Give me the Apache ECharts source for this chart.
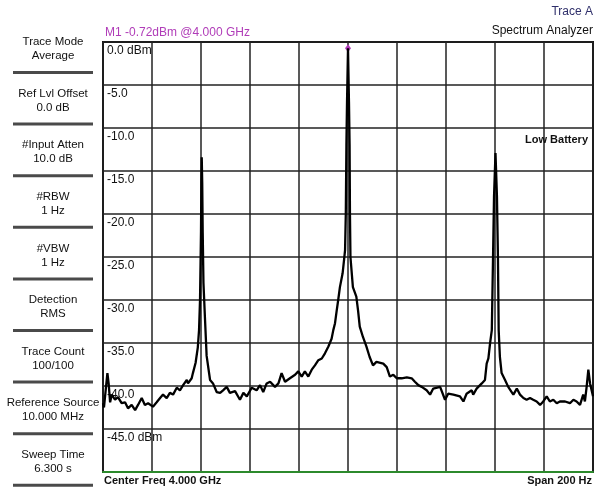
<!DOCTYPE html>
<html><head><meta charset="utf-8">
<script src="https://cdn.jsdelivr.net/npm/echarts@6/dist/echarts.min.js"></script>
<style>html,body{margin:0;padding:0;background:#fff}#c{width:595px;height:489px}</style>
</head><body><div id="c"></div>
<script>
// Frequency offset from centre (Hz) and level (dBm)
var freqHz = [-100,-99.6,-98.8,-98.2,-97.7,-97.1,-96.4,-95.1,-93.9,-92.4,-91.0,-89.8,-88.3,-86.9,-85.7,-84.2,-82.9,-81.6,-79.6,-78.1,-76.7,-75.5,-74.0,-72.7,-71.4,-69.9,-68.6,-67.3,-65.8,-65.3,-63.8,-63.3,-62.2,-61.3,-60.8,-60.4,-60.0,-59.85,-59.7,-59.5,-59.3,-59.0,-58.4,-57.7,-56.3,-55.1,-53.6,-52.2,-51.0,-49.5,-48.2,-46.1,-44.1,-42.7,-41.3,-39.3,-37.3,-35.9,-34.6,-33.2,-31.8,-29.8,-28.4,-27.1,-25.7,-23.7,-21.6,-20.3,-18.9,-17.6,-16.2,-14.8,-13.5,-12.1,-10.7,-9.4,-8.0,-6.7,-6.0,-5.3,-4.6,-4.0,-3.3,-2.2,-1.6,-1.2,-0.9,-0.65,-0.4,0,0.4,0.65,0.8,1.0,2.0,3.4,4.1,4.8,6.1,7.5,8.8,10.2,11.6,14.4,15.8,17.1,18.5,19.9,21.9,24.0,26.0,27.3,28.7,30.1,32.1,33.5,34.8,37.6,39.6,40.9,43.0,45.7,47.1,48.4,50.5,51.1,52.5,54.6,55.9,56.6,57.3,58.0,58.7,59.2,59.6,60.2,60.8,61.2,61.5,62.0,62.7,64.1,65.4,66.8,67.5,68.9,70.2,71.6,72.9,74.3,75.6,77.0,78.4,79.7,81.1,82.4,83.8,85.2,86.5,88.6,90.6,92.0,93.3,94.7,96.0,96.7,97.4,98.1,98.8,99.5,100];
var levelDbm = [-42.0,-42.5,-40.2,-38.5,-39.7,-41.9,-41.0,-41.6,-41.3,-42.0,-41.9,-42.6,-42.2,-42.8,-42.2,-41.4,-42.2,-42.0,-42.4,-41.9,-41.4,-41.0,-41.4,-40.8,-41.0,-40.2,-40.5,-39.9,-39.3,-39.7,-39.1,-38.5,-37.3,-35.5,-33.5,-30.0,-22.0,-16.4,-13.4,-16.4,-22.2,-28.0,-32.0,-36.5,-39.3,-39.7,-40.7,-40.8,-40.5,-40.1,-40.8,-40.6,-41.6,-40.8,-41.2,-40.2,-40.5,-39.9,-40.7,-39.7,-39.5,-40.1,-39.7,-38.5,-39.5,-39.1,-38.7,-38.3,-38.9,-38.3,-38.9,-38.1,-37.6,-37.0,-36.8,-36.2,-35.4,-34.5,-33.5,-32.7,-31.2,-30.0,-28.5,-26.9,-25.3,-24.2,-20.0,-12.0,-7.0,-0.72,-7.0,-12.0,-20.0,-25.0,-28.5,-29.6,-31.2,-33.1,-34.3,-35.4,-36.6,-37.6,-37.2,-37.4,-37.8,-38.9,-38.7,-39.1,-39.1,-39.0,-39.1,-39.5,-39.9,-40.1,-40.5,-41.0,-40.3,-40.1,-41.6,-40.9,-41.0,-41.2,-41.8,-40.9,-40.5,-41.0,-40.3,-39.7,-39.3,-37.4,-36.8,-35.0,-33.5,-25.0,-18.0,-12.9,-18.0,-25.0,-33.5,-36.6,-38.5,-39.3,-40.1,-40.7,-41.0,-40.3,-41.0,-41.4,-41.6,-41.4,-41.6,-41.8,-42.2,-41.8,-41.2,-41.8,-41.6,-42.0,-41.8,-41.8,-42.0,-41.6,-41.8,-42.2,-41.0,-41.8,-40.1,-38.1,-39.7,-39.5,-41.2];
var yTicks = [0,-5,-10,-15,-20,-25,-30,-35,-40,-45,-50];
var yTickLabels = ['0.0 dBm','-5.0','-10.0','-15.0','-20.0','-25.0','-30.0','-35.0','-40.0','-45.0 dBm',''];
var marker = {freq: 0, level: -0.72, text: 'M1 -0.72dBm @4.000 GHz'};
var sidePanel = [
  ['Trace Mode','Average'],
  ['Ref Lvl Offset','0.0 dB'],
  ['#Input Atten','10.0 dB'],
  ['#RBW','1 Hz'],
  ['#VBW','1 Hz'],
  ['Detection','RMS'],
  ['Trace Count','100/100'],
  ['Reference Source','10.000 MHz'],
  ['Sweep Time','6.300 s']
];
var bottomLeft = 'Center Freq 4.000 GHz';
var bottomRight = 'Span 200 Hz';

var FONT = '"Liberation Sans", Arial, sans-serif';
var series = freqHz.map(function(f,i){return [f, levelDbm[i]];});

var graphics = [];
sidePanel.forEach(function(p,i){
  var y0 = 42 + i*51.6;
  graphics.push({type:'text', position:[53, y0-7], style:{text:p[0]+'\n'+p[1], textAlign:'center', font:'11.5px '+FONT, fill:'#111', lineHeight:14}, z:10});
  graphics.push({type:'rect', shape:{x:13, y:y0+29, width:80, height:3}, style:{fill:'#4a4a4a'}, z:10});
});
graphics.push({type:'text', position:[105,27], style:{text:marker.text, font:'12px '+FONT, fill:'#b03cb8'}, z:10});
graphics.push({type:'text', position:[593,6], style:{text:'Trace A', textAlign:'right', font:'12px '+FONT, fill:'#2f2f6a'}, z:10});
graphics.push({type:'text', position:[593,25], style:{text:'Spectrum Analyzer', textAlign:'right', font:'12px '+FONT, fill:'#111'}, z:10});
graphics.push({type:'text', position:[588,134], style:{text:'Low Battery', textAlign:'right', font:'bold 11px '+FONT, fill:'#111'}, z:10});
graphics.push({type:'text', position:[104,475], style:{text:bottomLeft, font:'bold 11px '+FONT, fill:'#111'}, z:10});
graphics.push({type:'text', position:[592,475], style:{text:bottomRight, textAlign:'right', font:'bold 11px '+FONT, fill:'#111'}, z:10});

var chart = echarts.init(document.getElementById('c'), null, {renderer:'canvas'});
chart.setOption({
  animation:false,
  backgroundColor:'#fff',
  grid:{left:103, top:42, right:2, bottom:17, show:true, borderColor:'#111', borderWidth:2},
  xAxis:{type:'value', min:-100, max:100, interval:20,
    axisLine:{show:true, onZero:false, lineStyle:{color:'#2c8a2c', width:2}},
    axisTick:{show:false}, axisLabel:{show:false},
    splitLine:{show:true, lineStyle:{color:'#222', width:1.5}}},
  yAxis:{type:'value', min:-50, max:0, interval:5,
    axisLine:{show:false}, axisTick:{show:false},
    axisLabel:{show:true, inside:true, margin:4, align:'left', verticalAlign:'top', padding:[3,0,0,0],
      fontFamily:'Liberation Sans', fontSize:12, color:'#111',
      formatter:function(v){var i=yTicks.indexOf(Math.round(v)); return i>=0?yTickLabels[i]:'';}},
    splitLine:{show:true, lineStyle:{color:'#222', width:1.5}}},
  series:[{type:'line', data:series, showSymbol:false, symbol:'none', clip:true,
    lineStyle:{color:'#000', width:2.3}, z:5,
    markPoint:{symbol:'diamond', symbolSize:[6,8], label:{show:false},
      itemStyle:{color:'#b03cb8'}, data:[{coord:[marker.freq, marker.level]}]}}],
  graphic:graphics
});
</script></body></html>
